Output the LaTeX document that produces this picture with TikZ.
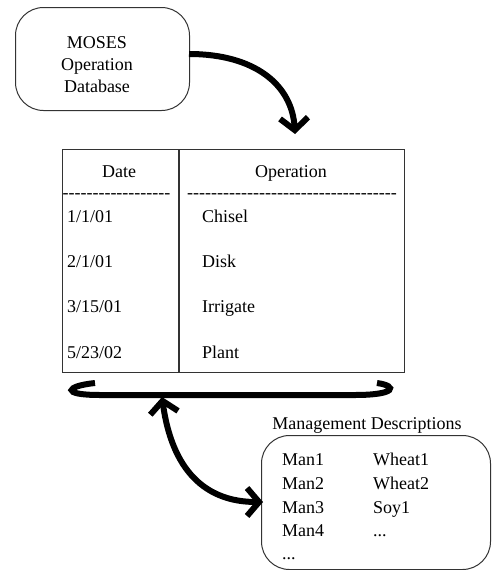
\documentclass[tikz,border=0pt]{standalone}
\usepackage{fontspec}
\setmainfont{Liberation Serif}
\newfontfamily\plainfont{Liberation Serif}
\usetikzlibrary{arrows.meta}
\begin{document}
\begin{tikzpicture}[x=1pt,y=-1pt,
  txt/.style={inner sep=0pt, text height=12pt, text depth=0pt, font=\fontsize{18}{21}\selectfont},
  dashtxt/.style={inner sep=0pt, text height=11pt, text depth=0pt, font=\plainfont\fontsize{18}{21}\selectfont},
  rbox/.style={draw=black!80, line width=1pt, rounded corners=28pt, inner sep=0pt},
  tblbox/.style={draw=black!80, line width=1.2pt, inner sep=0pt},
  barb/.tip={Straight Barb[length=12pt,width=28pt,line width=6pt]},
  bigarrow/.style={line width=6pt, line cap=butt}
]
\useasboundingbox (0,0) rectangle (492,570);

% MOSES box
\node[rbox, minimum width=174pt, minimum height=103pt, anchor=north west] (moses) at (15,7) {};
\node[txt] (m1) at (97,42) {MOSES};
\node[txt] (m2) at (97,64) {Operation};
\node[txt] (m3) at (97,86) {Database};

% table
\node[tblbox, minimum width=342pt, minimum height=223pt, anchor=north west] (tbl) at (62,149) {};
\coordinate (divtop) at (179,149);
\coordinate (divbot) at (179,372);
\draw[draw=black!80, line width=1.2pt] (divtop) -- (divbot);

\node[txt] (hdate) at (119,171) {Date};
\node[txt] (hop) at (291,171) {Operation};
\node[dashtxt] (dl) at (116.5,193) {------------------};
\node[dashtxt] (dr) at (292,193) {-----------------------------------};

\node[txt, anchor=west] (d1) at (67,216) {1/1/01};
\node[txt, anchor=west] (d2) at (67,261) {2/1/01};
\node[txt, anchor=west] (d3) at (67,306) {3/15/01};
\node[txt, anchor=west] (d4) at (67,352) {5/23/02};
\node[txt, anchor=west] (o1) at (202,216) {Chisel};
\node[txt, anchor=west] (o2) at (202,261) {Disk};
\node[txt, anchor=west] (o3) at (202,306) {Irrigate};
\node[txt, anchor=west] (o4) at (202,352) {Plant};

% arrow from MOSES to table
\coordinate (a1start) at (189,54);
\coordinate (a1end) at (295,134);
\draw[bigarrow, -{barb}] (a1start) .. controls (255,54) and (292,85) .. (a1end);

% bracket under table
\coordinate (bl) at (95,383);
\coordinate (br) at (377,383);
\draw[line width=6pt, line cap=butt] (bl) .. controls (66,386) and (60,395) .. (100,395) -- (355,395) .. controls (396,395) and (398,386) .. (br);

% management label and box
\node[txt] (mlabel) at (367,423) {Management Descriptions};
\node[rbox, minimum width=229pt, minimum height=134pt, anchor=north west] (mgmt) at (261,435) {};
\node[txt, anchor=west] (n1) at (282,459) {Man1};
\node[txt, anchor=west] (n2) at (282,483) {Man2};
\node[txt, anchor=west] (n3) at (282,507) {Man3};
\node[txt, anchor=west] (n4) at (282,530) {Man4};
\node[txt, anchor=west] (n5) at (282,553) {...};
\node[txt, anchor=west] (w1) at (373,459) {Wheat1};
\node[txt, anchor=west] (w2) at (373,483) {Wheat2};
\node[txt, anchor=west] (w3) at (373,507) {Soy1};
\node[txt, anchor=west] (w4) at (373,530) {...};

% double arrow
\coordinate (a2top) at (162,397);
\coordinate (a2end) at (263,502);
\draw[bigarrow, {barb}-{barb}] (a2top) .. controls (172,470) and (205,502) .. (a2end);
\end{tikzpicture}
\end{document}
